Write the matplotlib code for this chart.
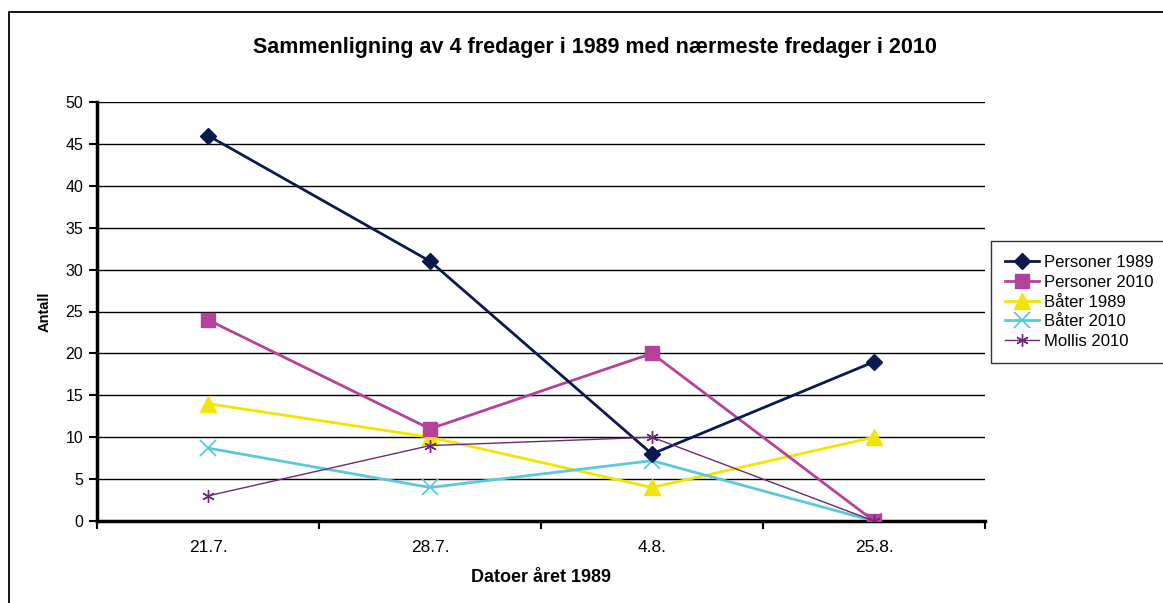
import matplotlib
matplotlib.use("Agg")
import matplotlib.pyplot as plt
from matplotlib.patches import Rectangle

plt.rcParams['font.family'] = ['Liberation Sans', 'DejaVu Sans']

# Data
datoer = ["21.7.", "28.7.", "4.8.", "25.8."]
personer_1989 = [46, 31, 8, 19]
personer_2010 = [24, 11, 20, 0]
bater_1989 = [14, 10, 4, 10]
bater_2010 = [8.7, 4, 7.2, 0]
mollis_2010 = [3, 9, 10, 0]

fig = plt.figure(figsize=(11.63, 6.03), dpi=100)

# outer chart frame (cut off at right and bottom)
fig.patches.append(Rectangle((9 / 1163, -0.05), 1.2, 1 - 12 / 603 + 0.05,
                             transform=fig.transFigure, fill=False,
                             edgecolor='black', linewidth=1.3))

ax = fig.add_axes([97 / 1163, 1 - 521 / 603, (985 - 97) / 1163, (521 - 102) / 603])
x = list(range(len(datoer)))

ax.plot(x, personer_1989, color='#0B1A4E', lw=2, marker='D', ms=8, label='Personer 1989', zorder=5)
ax.plot(x, personer_2010, color='#B5419A', lw=2, marker='s', ms=10, label='Personer 2010', zorder=4)
ax.plot(x, bater_1989, color='#F2E600', lw=2, marker='^', ms=11, label='Båter 1989', zorder=3)
ax.plot(x, bater_2010, color='#5CC8DC', lw=2, marker='x', ms=11, mew=1.3, label='Båter 2010', zorder=3)
ax.plot(x, mollis_2010, color='#6B2A72', lw=1, marker=(6, 2, 0), ms=9, mew=1, label='Mollis 2010', zorder=6)

ax.set_xlim(-0.5, len(datoer) - 0.5)
ax.set_ylim(0, 50)
ax.set_yticks(range(0, 51, 5))
ax.yaxis.grid(True, color='black', lw=1)
ax.set_axisbelow(True)

ax.set_xticks(x)
ax.set_xticklabels(datoer, fontsize=12.5)
ax.set_xticks([i - 0.5 for i in range(len(datoer) + 1)], minor=True)
ax.tick_params(axis='x', which='major', length=0, pad=14)
ax.tick_params(axis='x', which='minor', length=6, width=1.5, direction='out')
ax.tick_params(axis='y', length=6, width=1.5, direction='out', labelsize=11.5, pad=4)

for s in ['top', 'right']:
    ax.spines[s].set_visible(False)
for s in ['left', 'bottom']:
    ax.spines[s].set_linewidth(2.5)

ax.set_xlabel('Datoer året 1989', fontsize=13, fontweight='bold', labelpad=10)
ax.set_ylabel('Antall', fontsize=10.5, fontweight='bold', labelpad=10)

fig.text(595 / 1163, 1 - 47 / 603, 'Sammenligning av 4 fredager i 1989 med nærmeste fredager i 2010',
         ha='center', va='center', fontsize=15.5, fontweight='bold')

leg = ax.legend(loc='upper left', bbox_to_anchor=(991 / 1163, 1 - 241 / 603),
                bbox_transform=fig.transFigure, fontsize=12, frameon=True,
                fancybox=False, edgecolor='black', borderpad=0.85,
                handlelength=2.0, handletextpad=0.3, labelspacing=0.28, borderaxespad=0)
leg.get_frame().set_linewidth(1)

fig.savefig('out.png', dpi=100)
